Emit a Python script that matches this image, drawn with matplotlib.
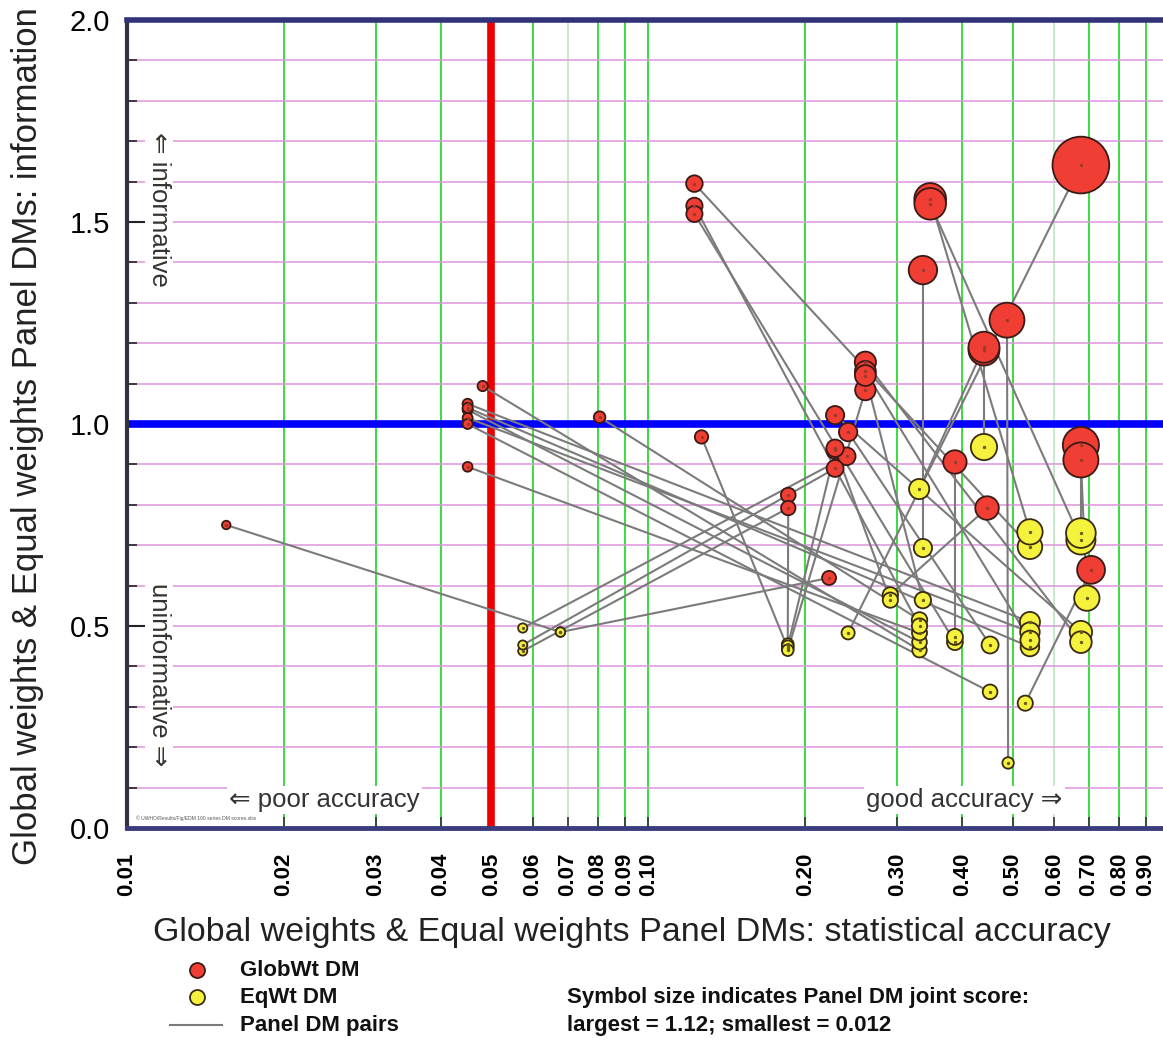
import matplotlib
matplotlib.use('Agg')
import matplotlib.pyplot as plt
import numpy as np
from matplotlib.ticker import FixedLocator, NullLocator

plt.rcParams['font.family'] = ['Liberation Sans', 'DejaVu Sans']

# ---------------- data ----------------
# Global-weights DM (red) : statistical accuracy, information
glob_acc = [0.0155, 0.0481, 0.045, 0.045, 0.045, 0.045, 0.045, 0.045, 0.0806, 0.1264,
            0.1225, 0.1225, 0.1225, 0.1854, 0.1854, 0.222, 0.228, 0.2415, 0.228, 0.24,
            0.228, 0.2606, 0.2606, 0.2606, 0.336, 0.347, 0.347, 0.487, 0.44, 0.675,
            0.675, 0.675, 0.706, 0.387, 0.446, 0.2606, 0.44, 0.228]
glob_info = [0.75, 1.094, 1.05, 1.035, 1.015, 1.04, 1.00, 0.894, 1.017, 0.968,
             1.595, 1.54, 1.52, 0.824, 0.792, 0.619, 1.022, 0.98, 0.935, 0.92,
             0.89, 1.153, 1.13, 1.084, 1.381, 1.557, 1.545, 1.257, 1.183, 1.641,
             0.948, 0.911, 0.639, 0.906, 0.792, 1.12, 1.19, 0.94]
# Equal-weights DM (yellow) paired with the red one in the same position
eq_acc = [0.0678, 0.331, 0.539, 0.331, 0.539, 0.539, 0.452, 0.331, 0.331, 0.185,
          0.539, 0.331, 0.387, 0.185, 0.0574, 0.0678, 0.675, 0.452, 0.185, 0.0574,
          0.0574, 0.675, 0.539, 0.185, 0.336, 0.539, 0.675, 0.4895, 0.44, 0.2415,
          0.675, 0.693, 0.528, 0.387, 0.291, 0.336, 0.3305, 0.291]
eq_info = [0.485, 0.44, 0.51, 0.46, 0.485, 0.448, 0.337, 0.483, 0.515, 0.445,
           0.696, 0.50, 0.46, 0.455, 0.438, 0.485, 0.485, 0.453, 0.45, 0.495,
           0.453, 0.46, 0.465, 0.44, 0.693, 0.733, 0.713, 0.161, 0.943, 0.483,
           0.730, 0.569, 0.309, 0.473, 0.577, 0.564, 0.839, 0.564]

xtick_vals = [0.01, 0.02, 0.03, 0.04, 0.05, 0.06, 0.07, 0.08, 0.09, 0.10,
              0.20, 0.30, 0.40, 0.50, 0.60, 0.70, 0.80, 0.90]
xtick_labels = ['0.01', '0.02', '0.03', '0.04', '0.05', '0.06', '0.07', '0.08', '0.09', '0.10',
                '0.20', '0.30', '0.40', '0.50', '0.60', '0.70', '0.80', '0.90']
ytick_vals = [0.0, 0.5, 1.0, 1.5, 2.0]
ytick_labels = ['0.0', '0.5', '1.0', '1.5', '2.0']
ygrid_vals = [0.1, 0.2, 0.3, 0.4, 0.5, 0.6, 0.7, 0.8, 0.9, 1.1, 1.2, 1.3, 1.4,
              1.5, 1.6, 1.7, 1.8, 1.9]
xgrid_strong = [0.02, 0.03, 0.04, 0.06, 0.08, 0.09, 0.10, 0.20, 0.30, 0.40,
                0.50, 0.70, 0.80, 0.90]
xgrid_faint = [0.07, 0.60]

# ---------------- figure ----------------
W, H = 1163, 1041
fig = plt.figure(figsize=(W / 100, H / 100), dpi=100)
ax = fig.add_axes([127 / W, 1 - 828 / H, (W - 127) / W, 808 / H])
ax.set_xscale('log')
ax.set_xlim(0.01, 0.97)
ax.set_ylim(0, 2)

for v in xgrid_strong:
    ax.axvline(v, color='#3ddc3d', lw=1.4, zorder=1)
for v in xgrid_faint:
    ax.axvline(v, color='#bfe6bf', lw=1.2, zorder=1)
for v in ygrid_vals:
    ax.axhline(v, color='#dd95dd', lw=1.1, zorder=1)

ax.axvline(0.05, color='#ee0000', lw=5.5, zorder=2)
ax.axhline(1.0, color='#0000ff', lw=5.5, zorder=2.1)

# pair lines
for gx, gy, ex, ey in zip(glob_acc, glob_info, eq_acc, eq_info):
    ax.plot([gx, ex], [gy, ey], color='#7b7b7b', lw=1.5, zorder=3,
            solid_capstyle='round')


def sizes(xs, ys):
    sc = np.array(xs) * np.array(ys)
    d_px = 8 + 44 * sc
    return (d_px * 0.72) ** 2


ax.scatter(eq_acc, eq_info, s=sizes(eq_acc, eq_info), c='#f4f23c',
           edgecolors='#3a2a10', linewidths=1.3, zorder=4)
ax.scatter(eq_acc, eq_info, s=2, c='#6a5a20', zorder=4.1)
ax.scatter(glob_acc, glob_info, s=sizes(glob_acc, glob_info), c='#f03e34',
           edgecolors='#3a1a14', linewidths=1.3, zorder=5)
ax.scatter(glob_acc, glob_info, s=2, c='#9a3a2a', zorder=5.1)

# annotations inside the plot
bbox = dict(facecolor='white', edgecolor='none', pad=1.5)
ax.text(0.01152, 1.53, '\u21d0 informative', rotation=-90, fontsize=18.5,
        color='#333333', ha='center', va='center', bbox=bbox, zorder=2.5)
ax.text(0.01152, 0.379, 'uninformative \u21d2', rotation=-90, fontsize=18.5,
        color='#333333', ha='center', va='center', bbox=bbox, zorder=2.5)
ax.text(0.0239, 0.069, '\u21d0 poor accuracy', fontsize=18.5, color='#333333',
        ha='center', va='center', bbox=bbox, zorder=2.5)
ax.text(0.404, 0.069, 'good accuracy \u21d2', fontsize=18.5, color='#333333',
        ha='center', va='center', bbox=bbox, zorder=2.5)
ax.text(0.0104, 0.018, '\u00a9 UWHO/Results/Fig/EDM 100 series DM scores.xlsx',
        fontsize=3.6, color='#555555', ha='left', va='bottom', zorder=2.5)

# ticks
ax.xaxis.set_major_locator(FixedLocator(xtick_vals))
ax.xaxis.set_minor_locator(NullLocator())
ax.set_xticklabels(xtick_labels, rotation=90, fontweight='bold', fontsize=16)
ax.tick_params(axis='x', which='major', direction='in', length=8, width=1.2,
               color='#333333', pad=18)
ax.set_yticks(ytick_vals)
ax.set_yticklabels(ytick_labels, fontsize=21)
ax.yaxis.set_minor_locator(FixedLocator(ygrid_vals))
ax.tick_params(axis='y', which='major', direction='in', length=14, width=1.5,
               color='#222222', pad=12)
ax.tick_params(axis='y', which='minor', direction='in', length=7, width=1.2,
               color='#222222')

ax.spines['top'].set_color('#32327a')
ax.spines['top'].set_linewidth(4)
ax.spines['bottom'].set_color('#3c3c7c')
ax.spines['bottom'].set_linewidth(3.5)
ax.spines['left'].set_color('#333340')
ax.spines['left'].set_linewidth(3)
ax.spines['right'].set_visible(False)
for sp in ax.spines.values():
    sp.set_zorder(6)

# ---------------- outer texts and legend (pixel overlay) ----------------
lax = fig.add_axes([0, 0, 1, 1])
lax.set_xlim(0, W)
lax.set_ylim(H, 0)
lax.axis('off')

lax.text(28, 436, 'Global weights & Equal weights Panel DMs: information',
         rotation=90, fontsize=25, color='#222222', ha='center', va='center')
lax.text(632, 933, 'Global weights & Equal weights Panel DMs: statistical accuracy',
         fontsize=24.5, color='#222222', ha='center', va='center')

lax.scatter([197], [970], s=(15 * 0.72) ** 2, c='#f03e34', edgecolors='#3a1a14',
            linewidths=1.3)
lax.scatter([197], [997], s=(15 * 0.72) ** 2, c='#f4f23c', edgecolors='#3a2a10',
            linewidths=1.3)
lax.plot([170, 222], [1025, 1025], color='#7b7b7b', lw=1.5)
leg_font = dict(fontsize=16, fontweight='bold', color='#111111', va='center', ha='left')
lax.text(240, 970, 'GlobWt DM', **leg_font)
lax.text(240, 997, 'EqWt DM', **leg_font)
lax.text(240, 1025, 'Panel DM pairs', **leg_font)
lax.text(567, 997, 'Symbol size indicates Panel DM joint score:', **leg_font)
lax.text(567, 1025, 'largest = 1.12; smallest = 0.012', **leg_font)

fig.savefig('out.png', dpi=100)
